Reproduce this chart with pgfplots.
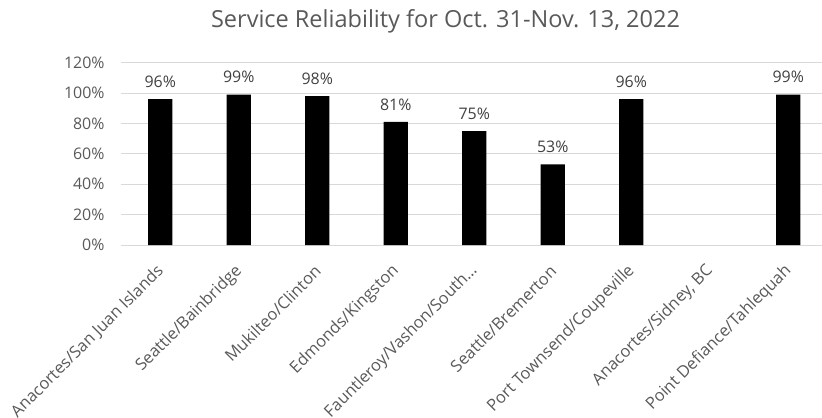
\documentclass[border=0pt]{standalone}
\usepackage{fontspec}
\setmainfont{Open Sans}
\usepackage{pgfplots}
\pgfplotsset{compat=1.18}
\definecolor{tickgray}{HTML}{595959}
\definecolor{labgray}{HTML}{404040}
\definecolor{gridgray}{HTML}{D9D9D9}
\begin{document}
\begin{tikzpicture}
\useasboundingbox (0,0) rectangle (822bp,418bp);
\node[font=\fontsize{23.6}{26}\selectfont, text=tickgray] at (445.5bp,397bp) {Service Reliability for Oct. 31-Nov. 13, 2022};
\begin{axis}[
  at={(121bp,173bp)}, anchor=south west,
  scale only axis, width=701bp, height=182.3bp,
  xmin=-0.5, xmax=8.43, ymin=0, ymax=1.2,
  axis line style={draw=none},
  ymajorgrids, grid style={gridgray, line width=0.8pt},
  ytick={0,0.2,0.4,0.6,0.8,1.0,1.2},
  yticklabels={0\%,20\%,40\%,60\%,80\%,100\%,120\%},
  xtick={0,1,2,3,4,5,6,7,8},
  xticklabels={Anacortes/San Juan Islands,Seattle/Bainbridge,Mukilteo/Clinton,Edmonds/Kingston,Fauntleroy/Vashon/South\dots,Seattle/Bremerton,Port Townsend/Coupeville,{Anacortes/Sidney, BC},Point Defiance/Tahlequah},
  tick style={draw=none},
  ticklabel style={font=\fontsize{16}{18}\selectfont, text=tickgray},
  yticklabel style={xshift=-13bp},
  xticklabel style={font=\fontsize{16.5}{19}\selectfont, xshift=3bp, yshift=-21bp, rotate=45, anchor=east},
  clip=false,
]
\draw[gridgray, line width=0.8pt] (axis cs:-0.5,0) -- (axis cs:8.43,0);
\addplot[ybar, bar width=0.306, fill=black, draw=none,
  point meta=explicit symbolic, nodes near coords,
  every node near coord/.append style={font=\fontsize{16}{18}\selectfont, text=labgray, yshift=8bp}]
  coordinates {(0,0.96)[96\%] (1,0.99)[99\%] (2,0.98)[98\%] (3,0.81)[81\%] (4,0.75)[75\%] (5,0.53)[53\%] (6,0.96)[96\%] (8,0.99)[99\%]};
\end{axis}
\end{tikzpicture}
\end{document}
